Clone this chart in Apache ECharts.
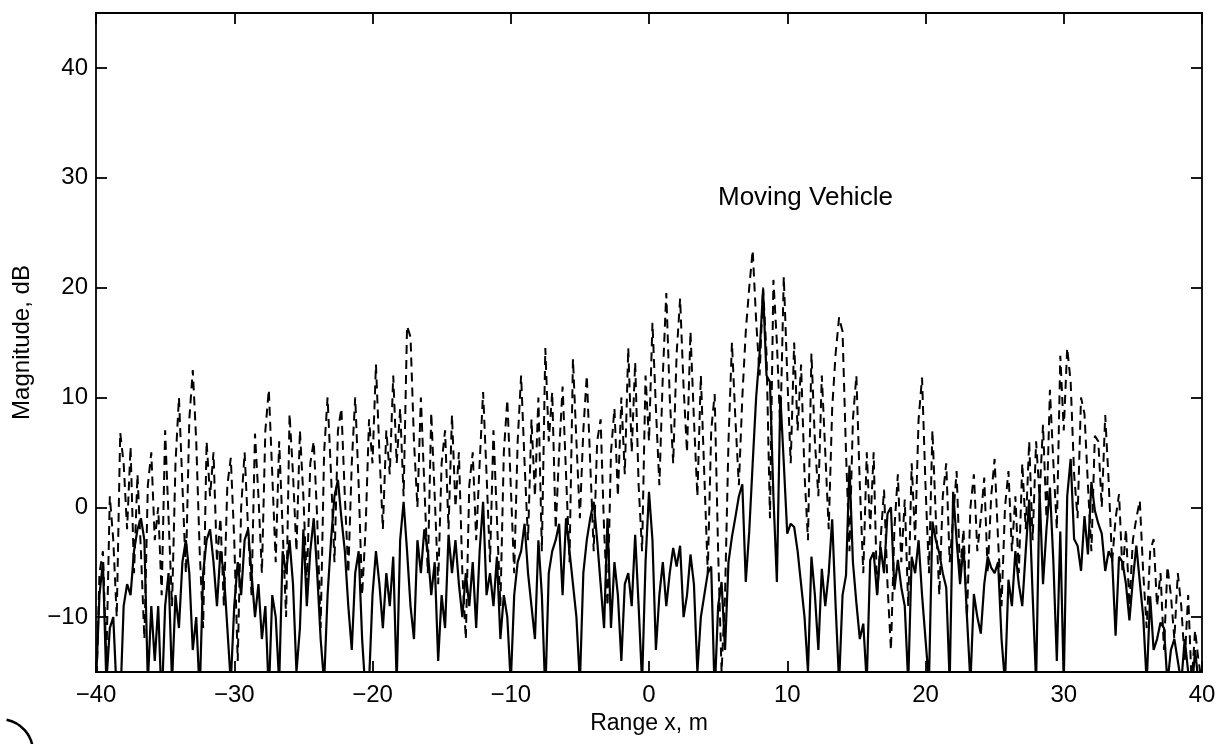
<!DOCTYPE html>
<html>
<head>
<meta charset="utf-8">
<script src="https://cdn.jsdelivr.net/npm/echarts@6/dist/echarts.min.js"></script>
<style>
  html, body { margin: 0; padding: 0; background: #ffffff; }
  #chart { width: 1223px; height: 744px; }
</style>
</head>
<body>
<div id="chart"></div>
<script>
// Sampling grid for range x (m)
const rangeStart = -40;
const rangeStep = 0.25;

// Solid curve (magnitude, dB), one value per 0.25 m from -40 to 40
const solidValues = [
  // -40 .. -35.25
  -16, -8, -5, -16, -11, -10, -17, -18, -9, -7, -8, -4, -2, -1, -3, -16, -9, -14, -9, -18,
  // -35 .. -30.25
  -9, -6, -16, -8, -11, -5, -3, -6, -13, -10, -17, -6, -3, -2, -5, -9, -4, -6, -11, -16,
  // -30 .. -25.25
  -9, -5, -8, -3, -2, -6, -10, -7, -12, -9, -17, -8, -10, -16, -4, -6, -3, -7, -15, -11,
  // -25 .. -20.25
  -2, -9, -4, -1, -6, -12, -16, -8, -3, 1, 2.5, -1, -4, -9, -13, -6, -4, -12, -17, -16,
  // -20 .. -15.25
  -8, -4, -7, -11, -6, -9, -4.5, -16, -3, 0.5, -4, -9, -12, -3, -6, -2, -4, -8, -5, -14,
  // -15 .. -10.25
  -8, -11, -2.5, -6, -3, -7, -10, -6, -9, -5, -11, -4, 0.5, -8, -6, -9, -4.5, -12, -8, -10,
  // -10 .. -5.25
  -16, -8, -5, -4, -1.5, -6, -9, -12, -3, -8, -17, -6, -4, -3, -1.5, -8, -1, -4, -7, -10,
  // -5 .. -0.25
  -16, -6, -3, -1, 0.5, -3, -7, -11, -1, -11, -5, -8, -14, -7, -6, -9, -2.5, -9, -16, -5,
  // 0 .. 4.75
  1.4, -3, -13, -8, -5, -9, -6, -3.7, -5.4, -3.5, -10, -8, -4.3, -7, -15, -10, -8, -6, -5.4, -17,
  // 5 .. 9.75
  -9, -6.8, -13, -5, -2.7, -0.9, 1, 2.1, -6.8, -2.2, 4, 10, 14, 19.8, 12, 11.4, 1, -6.8, 10.2, 4,
  // 10 .. 14.75
  -2.4, -1.5, -1.8, -4, -7, -10, -15, -4.5, -8, -13, -5.6, -9, -6, -1.1, -9, -16, -8, -6.2, 3.8, -5,
  // 15 .. 19.75
  -8.7, -12, -10.6, -16, -4.8, -4.1, -8, -3.6, -6, -0.6, 0, -7.5, -4.8, -7.3, -9, -16, -4.5, -6, -3, -8,
  // 20 .. 24.75
  -12, -16, -1.3, -3, -4.2, -6, -7.3, -16, 1.4, -3, -7, -3.5, -10, -16, -7.9, -10, -11.5, -7, -4.5, -5.5,
  // 25 .. 29.75
  -6, -5, -12, -16, -6.6, -9, -4, -7, -9, -4, 0.7, -8, -16, 1.6, -7, -2, 1.8, -5, -14, -2.2,
  // 30 .. 34.75
  -16, 1, 4.4, -2.9, -3.5, -5.8, -0.8, -4.3, 2.3, -0.3, -1.5, -2.4, -5.8, -4, -4.7, -11.7, -4.5, -5, -7, -10.3,
  // 35 .. 40
  -6.6, -3.5, -6.8, -10, -16, -8.1, -13, -12, -10.5, -11, -16, -13, -12, -14, -16, -12, -15, -17, -13, -16, -18
];

// Dashed curve (magnitude, dB), one value per 0.25 m from -40 to 40
const dashedValues = [
  // -40 .. -35.25
  -18, -6, -4, -14, 1, -3, -10, 6.8, 4, -2, 5.5, -6, 3, -4, -12, 2, 5, -3, 0, -8,
  // -35 .. -30.25
  7, -1, -9, 4, 10, 2, -6, 8, 12.5, 6, -4, -11, 6, 1, 5, -5, -1, -9, 2, 4.5,
  // -30 .. -25.25
  -3, -14, 0, 5, -2, -8, 6.7, 1, -6, 7, 10.7, 3, -5, 6, -2, -10, 8.5, 3, -4, 7,
  // -25 .. -20.25
  1, -7, 4, 6, -1, -11, 5, 10, 3, -5, 7, 9, 1, -6, 4, 10, 2, -8, -2, 8,
  // -20 .. -15.25
  4, 13, 5, -2, 7, 3, 12, 4, 9, 1, 16.5, 15.5, 6, 0, 10, 2, -6, 8.6, 1, -7,
  // -15 .. -10.25
  4, 7, -2, 8.4, 0, 5, -6, -12, 2, 5, -3, 4, 10.5, 3, -5, 7, -1, -9, 5, 9.8,
  // -10 .. -5.25
  2, -6, 6, 12, 4, -3, 8, 1, 10, -4, 14.5, 6, 10.5, -2, 5, 11, 3, -5, 13.5, 6,
  // -5 .. -0.25
  -1, 7, 12, 4, -4, 6, 8, -2, -9, 5, 9, 1, 10, 3, 14.5, 5, 13.2, 2, -4, 12,
  // 0 .. 4.75
  6, 16.8, 9, 2, 12, 19.5, 10, 4, 14, 19, 11, 5, 16, 8, 1, 12, 3, -6, 7, 10.3,
  // 5 .. 9.75
  -4, -15, -8, 6, 15, 8, 2, 10, 16, 20, 23.4, 17, 12, 20, 14, -1, 20.7, 15, 7, 21,
  // 10 .. 14.75
  12, 4, 15, 7, 13, 3, -3, 14, 6, 1, 12, 5, -2, 9, 14, 17.3, 16, 5, -4, 8,
  // 15 .. 19.75
  12, 2, -6, 5, -2, 5, -8, -3, 1.6, -7, -13, -2, 3, -5, 0.7, -9, 4, -3, 8, 11.8,
  // 20 .. 24.75
  2, -6, 7, -1, -8, 1, 4, -5, -1, 3.3, -6, -2, -10, 0, 3, -4, -1, 2.7, -6, 1,
  // 25 .. 29.75
  4.4, -3, -9, 0, 3.3, -4, 1, -6, 4, -2, 6, -3, 6, 1, 7.5, -1, 10.7, 4, -2, 13.8,
  // 30 .. 34.75
  7, 14.5, 11.4, 3, -1, 10, 8.5, 2, -4, 6.5, 6, 0, 8.4, 2.3, -5, -1, 1.2, -6, -2, -9,
  // 35 .. 40
  -3, -1, 0.6, -6, -11, -4, -2.9, -9, -6, -13, -5.4, -8, -12, -6, -9, -14, -8, -16, -11.2, -14, -16
];

const xTicks = [-40, -30, -20, -10, 0, 10, 20, 30, 40];
const annotationText = 'Moving Vehicle';
const xAxisTitle = 'Range x, m';
const yAxisTitle = 'Magnitude, dB';

function toPairs(values) {
  return values.map(function (v, i) { return [rangeStart + i * rangeStep, v]; });
}
function fmt(v) { return String(v).replace('-', '\u2212'); }

const font = 'Liberation Sans, Arial, Helvetica, sans-serif';
const chart = echarts.init(document.getElementById('chart'), null, { renderer: 'canvas' });

const axisLine = { show: true, onZero: false, lineStyle: { color: '#000', width: 1.8 } };
const tickIn = { show: true, inside: true, length: 11, lineStyle: { color: '#000', width: 1.8 } };

chart.setOption({
  animation: false,
  backgroundColor: '#ffffff',
  grid: { left: 96, right: 21, top: 13, bottom: 72, containLabel: false },
  xAxis: [
    {
      type: 'value', position: 'bottom', min: -40, max: 40, interval: 10,
      axisLine: axisLine, axisTick: tickIn, splitLine: { show: false },
      axisLabel: { color: '#000', fontSize: 24, fontFamily: font, margin: 11, formatter: fmt },
      name: xAxisTitle, nameLocation: 'middle', nameGap: 35,
      nameTextStyle: { color: '#000', fontSize: 23, fontFamily: font }
    },
    {
      type: 'value', position: 'top', min: -40, max: 40, interval: 10,
      axisLine: axisLine, axisTick: tickIn, splitLine: { show: false },
      axisLabel: { show: false }
    }
  ],
  yAxis: [
    {
      type: 'value', position: 'left', min: -15, max: 45, splitNumber: 6,
      axisLine: axisLine, axisTick: tickIn, splitLine: { show: false },
      axisLabel: { color: '#000', fontSize: 24, fontFamily: font, margin: 8,
                   showMinLabel: false, showMaxLabel: false, formatter: fmt },
      name: yAxisTitle, nameLocation: 'middle', nameGap: 62, nameRotate: 90,
      nameTextStyle: { color: '#000', fontSize: 24, fontFamily: font }
    },
    {
      type: 'value', position: 'right', min: -15, max: 45, splitNumber: 6,
      axisLine: axisLine, axisTick: tickIn, splitLine: { show: false },
      axisLabel: { show: false }
    }
  ],
  series: [
    {
      type: 'line', name: 'dashed', data: toPairs(dashedValues),
      xAxisIndex: 0, yAxisIndex: 0, showSymbol: false, symbol: 'none', clip: true,
      lineStyle: { color: '#000', width: 2, type: [9, 6] }, z: 2
    },
    {
      type: 'line', name: 'solid', data: toPairs(solidValues),
      xAxisIndex: 0, yAxisIndex: 0, showSymbol: false, symbol: 'none', clip: true,
      lineStyle: { color: '#000', width: 2.2 }, z: 3
    }
  ],
  graphic: [
    {
      type: 'text', left: 718, top: 185,
      style: { text: annotationText, fill: '#000', font: '26px ' + font }
    },
    {
      type: 'arc',
      shape: { cx: 0, cy: 752, r: 33, startAngle: -Math.PI / 2 + 0.2, endAngle: -0.08 },
      style: { stroke: '#000', lineWidth: 2.5, fill: null }
    }
  ]
});
</script>
</body>
</html>
